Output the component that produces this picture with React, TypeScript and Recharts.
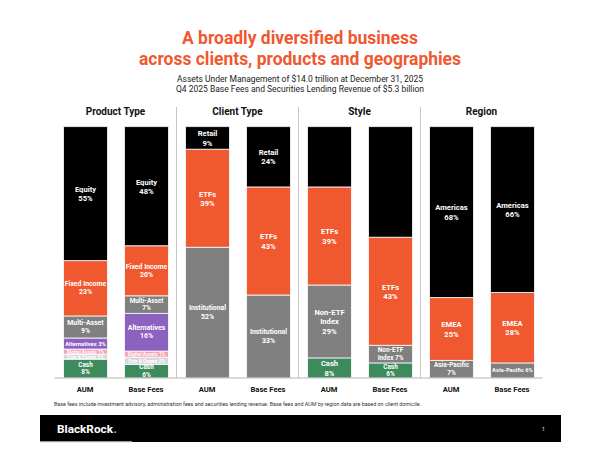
import React from 'react';
import { BarChart, Bar, XAxis, YAxis, Cell, LabelList, ReferenceLine } from 'recharts';

// one bar per entry, left to right
const barKeys = ['p-aum', 'p-fees', 'c-aum', 'c-fees', 's-aum', 's-fees', 'r-aum', 'r-fees'];
const barTicks = ['AUM', 'Base Fees', 'AUM', 'Base Fees', 'AUM', 'Base Fees', 'AUM', 'Base Fees'];
const panelTitles = ['Product Type', 'Client Type', 'Style', 'Region'];
const panelStarts = ['p-aum', 'c-aum', 's-aum', 'r-aum'];

// segment heights, listed bottom to top (small product slices are drawn wider than their share)
const productAum = [7.5, 1.9, 2.1, 4.4, 8.8, 22, 53.3];
const productFees = [5.4, 2.9, 2.4, 15, 7, 19.9, 47.4];
const clientAum = [52, 39, 9];
const clientFees = [33, 43, 24];
const styleAum = [8, 29, 39, 24];
const styleFees = [6, 7, 43, 44];
const regionAum = [7, 25, 68];
const regionFees = [6, 28, 66];

// printed labels, bottom to top
const productAumLabels = ['Cash\n8%', 'Curr & Comm 1%', 'Digital Assets 1%', 'Alternatives 3%', 'Multi-Asset\n9%', 'Fixed Income\n23%', 'Equity\n55%'];
const productFeesLabels = ['Cash\n6%', 'Curr & Comm 2%', 'Digital Assets 1%', 'Alternatives\n16%', 'Multi-Asset\n7%', 'Fixed Income\n20%', 'Equity\n48%'];
const clientAumLabels = ['Institutional\n52%', 'ETFs\n39%', 'Retail\n9%'];
const clientFeesLabels = ['Institutional\n33%', 'ETFs\n43%', 'Retail\n24%'];
const styleAumLabels = ['Cash\n8%', 'Non-ETF\nIndex\n29%', 'ETFs\n39%', 'Active\n24%'];
const styleFeesLabels = ['Cash\n6%', 'Non-ETF\nIndex 7%', 'ETFs\n43%', 'Active\n44%'];
const regionAumLabels = ['Asia-Pacific\n7%', 'EMEA\n25%', 'Americas\n68%'];
const regionFeesLabels = ['Asia-Pacific 6%', 'EMEA\n28%', 'Americas\n66%'];

const BLACK = '#000000';
const ORANGE = '#f0582f';
const GRAY = '#808080';
const PURPLE = '#8c62c0';
const PINK = '#f5a3b6';
const LIGHT = '#d9d9dd';
const GREEN = '#3d8a5c';

const productColors = [GREEN, LIGHT, PINK, PURPLE, GRAY, ORANGE, BLACK];
const clientColors = [GRAY, ORANGE, BLACK];
const styleColors = [GREEN, GRAY, ORANGE, BLACK];
const regionColors = [GRAY, ORANGE, BLACK];

const barValues = [productAum, productFees, clientAum, clientFees, styleAum, styleFees, regionAum, regionFees];
const barLabels = [
  productAumLabels, productFeesLabels, clientAumLabels, clientFeesLabels,
  styleAumLabels, styleFeesLabels, regionAumLabels, regionFeesLabels,
];
const barColors = [
  productColors, productColors, clientColors, clientColors,
  styleColors, styleColors, regionColors, regionColors,
];

const segCount = Math.max(...barValues.map(v => v.length));
const segKeys = Array.from({ length: segCount }, (_, i) => `seg${i}`);

const data = barKeys.map((key, row) => {
  const entry: Record<string, any> = { key, tick: barTicks[row] };
  barValues[row].forEach((v, i) => {
    entry[`seg${i}`] = v;
  });
  return entry;
});

const FONT = 'Roboto, "Noto Sans", Arial, sans-serif';
const W = 600;
const CHART_H = 400;
const PLOT_LEFT = 54.5;
const PLOT_RIGHT = 542.5;
const PLOT_TOP = 107;
const PLOT_BOTTOM = 378;
const Y_MAX = 107.8;

const makeLabel = (seg: number) => (props: any) => {
  const { x, y, width, height, index } = props;
  const text = barLabels[index]?.[seg];
  if (!text || !height) return null;
  const lines = text.split('\n');
  const longest = Math.max(...lines.map((l: string) => l.length));
  let size = longest > 10 ? 6.9 : 7.6;
  if (lines.length === 1) size = height < 8 ? 4.8 : 5.8;
  else if (height < 19) size = 6.4;
  const lh = Math.max(size * 1.22, 7.8);
  const cx = x + width / 2;
  const cy = y + height / 2;
  return (
    <text
      textAnchor="middle"
      fill="#ffffff"
      fontSize={size}
      fontWeight={700}
      fontFamily={FONT}
      dominantBaseline="central"
    >
      {lines.map((line: string, i: number) => (
        <tspan key={i} x={cx} y={cy + (i - (lines.length - 1) / 2) * lh}>
          {line}
        </tspan>
      ))}
    </text>
  );
};

const AxisTick = (props: any) => {
  const { x, y, payload, index } = props;
  return (
    <text
      x={x}
      y={y + 11.5}
      textAnchor="middle"
      dominantBaseline="central"
      fontSize={7.6}
      fontWeight={700}
      fontFamily={FONT}
      fill="#111"
    >
      {barTicks[index] ?? payload.value}
    </text>
  );
};

const Overlay: React.FC = () => {
  const band = (PLOT_RIGHT - PLOT_LEFT) / panelTitles.length;
  return (
    <svg
      width={W}
      height={450}
      style={{ position: 'absolute', left: 0, top: 0, pointerEvents: 'none' }}
      fontFamily={FONT}
    >
      <text x={300} y={37} textAnchor="middle" dominantBaseline="central" fontSize={19} fontWeight={700} fill={ORANGE} textLength={236} lengthAdjust="spacingAndGlyphs">
        A broadly diversified business
      </text>
      <text x={300} y={58.5} textAnchor="middle" dominantBaseline="central" fontSize={19} fontWeight={700} fill={ORANGE} textLength={322} lengthAdjust="spacingAndGlyphs">
        across clients, products and geographies
      </text>
      <text x={300} y={79} textAnchor="middle" dominantBaseline="central" fontSize={8.5} fill="#222" textLength={246} lengthAdjust="spacingAndGlyphs">
        Assets Under Management of $14.0 trillion at December 31, 2025
      </text>
      <text x={300} y={89} textAnchor="middle" dominantBaseline="central" fontSize={8.5} fill="#222" textLength={248} lengthAdjust="spacingAndGlyphs">
        Q4 2025 Base Fees and Securities Lending Revenue of $5.3 billion
      </text>
      {panelTitles.map((t, i) => (
        <text
          key={t}
          x={PLOT_LEFT + band * (i + 0.5)}
          y={111}
          textAnchor="middle"
          dominantBaseline="central"
          fontSize={10}
          fontWeight={700}
          fill="#111"
        >
          {t}
        </text>
      ))}
      <text x={54} y={404} dominantBaseline="central" fontSize={5} fill="#333" textLength={367} lengthAdjust="spacingAndGlyphs">
        Base fees include investment advisory, administration fees and securities lending revenue. Base fees and AUM by region data are based on client domicile.
      </text>
      <rect x={40} y={415} width={521} height={27} fill="#000" />
      <rect x={40} y={441} width={92} height={1.2} fill="#9a9a9a" />
      <text x={57} y={429} dominantBaseline="central" fontSize={11} fontWeight={700} fill="#fff" textLength={56} lengthAdjust="spacingAndGlyphs">
        BlackRock
      </text>
      <text x={113.5} y={429} dominantBaseline="central" fontSize={11} fontWeight={700} fill="#bbb">
        .
      </text>
      <text x={542} y={429} dominantBaseline="central" fontSize={5} fill="#fff">
        1
      </text>
    </svg>
  );
};

export default function App() {
  const xAxisH = 20;
  return (
    <div style={{ position: 'absolute', left: 0, top: 0, width: W, height: 450, background: '#fff' }}>
      <div style={{ position: 'absolute', left: 0, top: 0 }}>
        <BarChart
          width={W}
          height={CHART_H}
          data={data}
          barSize={44}
          margin={{
            top: PLOT_TOP,
            left: PLOT_LEFT,
            right: W - PLOT_RIGHT,
            bottom: CHART_H - PLOT_BOTTOM - xAxisH,
          }}
        >
          <XAxis
            dataKey="key"
            type="category"
            height={xAxisH}
            tickLine={false}
            tickSize={0}
            tickMargin={0}
            axisLine={{ stroke: '#b5b5b5', strokeWidth: 1 }}
            tick={<AxisTick />}
            interval={0}
          />
          <YAxis hide type="number" domain={[0, Y_MAX]} />
          {panelStarts.slice(1).map(k => (
            <ReferenceLine key={k} x={k} position="start" stroke="#c8c8c8" strokeWidth={1} ifOverflow="visible" />
          ))}
          {segKeys.map((sk, seg) => (
            <Bar key={sk} dataKey={sk} stackId="a" isAnimationActive={false} stroke="#ffffff" strokeWidth={0.8}>
              {data.map((_, row) => (
                <Cell key={row} fill={barColors[row][seg] ?? '#000'} />
              ))}
              <LabelList dataKey={sk} content={makeLabel(seg)} />
            </Bar>
          ))}
        </BarChart>
      </div>
      <Overlay />
    </div>
  );
}
